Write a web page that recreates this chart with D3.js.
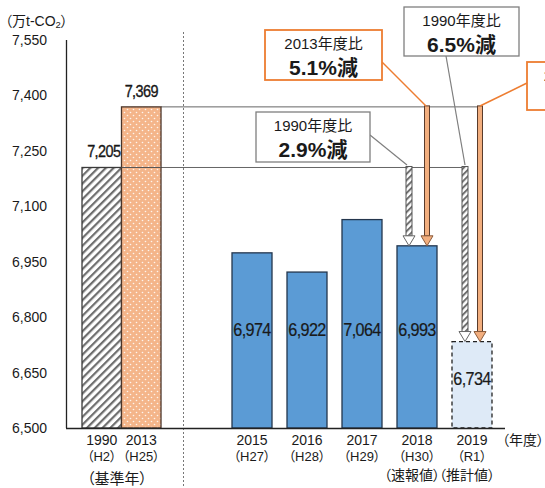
<!DOCTYPE html>
<html>
<head>
<meta charset="utf-8">
<script src="https://cdn.jsdelivr.net/npm/d3@7"></script>
<style>
  html, body { margin: 0; padding: 0; background: #fff; }
  svg { display: block; }
  text { font-family: "Liberation Sans", Arial, "Noto Sans CJK JP", sans-serif; fill: #1a1a1a;
         font-feature-settings: "palt" 1; }
</style>
</head>
<body>
<svg id="chart" width="545" height="488"></svg>
<script>
// ---- data ----
const categories = ["1990", "2013", "2015", "2016", "2017", "2018", "2019"];
const subLabels = ["（H2）", "（H25）", "（H27）", "（H28）", "（H29）", "（H30）", "（R1）"];
const values = [7205, 7369, 6974, 6922, 7064, 6993, 6734];
const valueLabels = ["7,205", "7,369", "6,974", "6,922", "7,064", "6,993", "6,734"];
const baseCats = ["1990", "2013"];
const recentCats = ["2015", "2016", "2017", "2018", "2019"];
const yTicks = [6500, 6650, 6800, 6950, 7100, 7250, 7400, 7550];
const yTickLabels = ["6,500", "6,650", "6,800", "6,950", "7,100", "7,250", "7,400", "7,550"];
const yUnit = "（万t-CO";
const xUnit = "（年度）";
const baseNote = "（基準年）";
const noteCats = ["2018", "2019"];
const noteLabels = ["（速報値）", "（推計値）"];
const calloutTitles = ["2013年度比", "1990年度比", "1990年度比", "2013年度比"];
const calloutValues = ["5.1%減", "6.5%減", "2.9%減", "8.6%減"];

// ---- setup ----
const svg = d3.select("#chart");
const y = d3.scaleLinear().domain([6500, 7550]).range([428, 40]);
const xBase = d3.scaleBand().domain(baseCats).range([82, 161]).padding(0);
const xRecent = d3.scaleBand().domain(recentCats).range([224.5, 499.5])
  .paddingInner(0.2727).paddingOuter(0.1364);
const xPos = c => baseCats.includes(c) ? xBase(c) : xRecent(c);
const bw = c => baseCats.includes(c) ? xBase.bandwidth() : xRecent.bandwidth();
const val = c => values[categories.indexOf(c)];

const defs = svg.append("defs");
const hatch = defs.append("pattern").attr("id", "hatch")
  .attr("patternUnits", "userSpaceOnUse").attr("width", 5.5).attr("height", 5.5)
  .attr("patternTransform", "rotate(45)");
hatch.append("rect").attr("width", 5.5).attr("height", 5.5).attr("fill", "#fff");
hatch.append("rect").attr("width", 2.2).attr("height", 5.5).attr("fill", "#6e6e6e");
const hatch2 = defs.append("pattern").attr("id", "hatch2")
  .attr("patternUnits", "userSpaceOnUse").attr("width", 4.5).attr("height", 4.5)
  .attr("patternTransform", "rotate(45)");
hatch2.append("rect").attr("width", 4.5).attr("height", 4.5).attr("fill", "#fff");
hatch2.append("rect").attr("width", 2).attr("height", 4.5).attr("fill", "#707070");
const dots = defs.append("pattern").attr("id", "dots")
  .attr("patternUnits", "userSpaceOnUse").attr("width", 6).attr("height", 6);
dots.append("rect").attr("width", 6).attr("height", 6).attr("fill", "#F4B58A");
dots.append("circle").attr("cx", 1.5).attr("cy", 1.5).attr("r", 0.8).attr("fill", "#fff").attr("opacity", 0.85);
dots.append("circle").attr("cx", 4.5).attr("cy", 4.5).attr("r", 0.8).attr("fill", "#fff").attr("opacity", 0.85);

// ---- y axis ----
const yAxis = d3.axisLeft(y).tickValues(yTicks).tickSize(0).tickPadding(0)
  .tickFormat((d, i) => yTickLabels[i]);
const ya = svg.append("g").attr("transform", "translate(47,0)").call(yAxis);
ya.select(".domain").remove();
ya.selectAll("text").attr("font-size", 14).attr("fill", "#222")
  .style("font-family", "'Liberation Sans', Arial, sans-serif");
svg.append("line").attr("x1", 66.5).attr("x2", 66.5).attr("y1", y(7550)).attr("y2", y(6500))
  .attr("stroke", "#222").attr("stroke-width", 1.3);

const unit = svg.append("text").attr("x", 5).attr("y", 26).attr("font-size", 14).attr("fill", "#222");
unit.append("tspan").text(yUnit);
unit.append("tspan").attr("font-size", 9.5).attr("dy", 2).text("2");
unit.append("tspan").attr("dy", -2).text("）");

svg.append("line").attr("x1", 183.5).attr("x2", 183.5).attr("y1", 32).attr("y2", 488)
  .attr("stroke", "#777").attr("stroke-width", 1).attr("stroke-dasharray", "2,2");

// ---- reference lines ----
svg.append("line").attr("x1", xBase("2013")).attr("x2", 467)
  .attr("y1", y(values[0])).attr("y2", y(values[0])).attr("stroke", "#666").attr("stroke-width", 1);
svg.append("line").attr("x1", xBase("2013") + xBase.bandwidth()).attr("x2", 482)
  .attr("y1", y(values[1])).attr("y2", y(values[1])).attr("stroke", "#666").attr("stroke-width", 1);

// ---- bars ----
const fills = { "1990": "url(#hatch)", "2013": "url(#dots)" };
const strokes = { "1990": "#3a3a3a", "2013": "#4a3428" };
svg.append("g").selectAll("rect").data(categories).join("rect")
  .attr("x", c => xPos(c)).attr("width", c => bw(c))
  .attr("y", c => y(val(c))).attr("height", c => y(6500) - y(val(c)))
  .attr("fill", c => fills[c] || (c === "2019" ? "#DEEAF7" : "#5B9BD5"))
  .attr("stroke", c => strokes[c] || (c === "2019" ? "#222" : "#24364d"))
  .attr("stroke-width", 1.3)
  .attr("stroke-dasharray", c => c === "2019" ? "4,3" : null);

svg.append("line").attr("x1", xBase("2013")).attr("x2", xBase("2013") + xBase.bandwidth())
  .attr("y1", y(values[0])).attr("y2", y(values[0])).attr("stroke", "#555").attr("stroke-width", 1);

svg.append("line").attr("x1", 66).attr("x2", 505).attr("y1", 428.5).attr("y2", 428.5)
  .attr("stroke", "#222").attr("stroke-width", 1.5);

// value labels (condensed)
categories.forEach((c, i) => {
  const cx = xPos(c) + bw(c) / 2;
  const isBase = baseCats.includes(c);
  let ty;
  if (isBase) ty = y(values[i]) - 10;
  else if (c === "2019") ty = (y(values[i]) + y(6500)) / 2;
  else ty = 336;
  svg.append("text")
    .attr("transform", `translate(${cx + (c === "1990" ? 2 : 0)},${ty}) scale(${isBase ? 0.85 : 0.9},1)`)
    .attr("text-anchor", "middle").attr("font-size", isBase ? 17 : 18)
    .attr("letter-spacing", -0.7).attr("fill", "#111")
    .attr("stroke", "#111").attr("stroke-width", isBase ? 0.35 : 0.2)
    .text(valueLabels[i]);
});

// x labels
categories.forEach((c, i) => {
  const cx = xPos(c) + bw(c) / 2;
  svg.append("text").attr("x", cx).attr("y", 445).attr("text-anchor", "middle")
    .attr("font-size", 14).attr("fill", "#222").text(c);
  svg.append("text").attr("x", cx).attr("y", 461).attr("text-anchor", "middle")
    .attr("font-size", 13).attr("fill", "#222").text(subLabels[i]);
});
svg.append("text").attr("x", 117).attr("y", 484).attr("text-anchor", "middle")
  .attr("font-size", 15).attr("fill", "#222").text(baseNote);
const noteOffsets = [-5, -5];
noteCats.forEach((c, i) => {
  svg.append("text").attr("x", xPos(c) + bw(c) / 2 + noteOffsets[i]).attr("y", 480).attr("text-anchor", "middle")
    .attr("font-size", 14).attr("fill", "#222").text(noteLabels[i]);
});
svg.append("text").attr("x", 502).attr("y", 445).attr("font-size", 14).attr("fill", "#222").text(xUnit);

// ---- arrows ----
function arrow(x, yTop, yTip, kind) {
  const g = svg.append("g");
  const sw = kind === "hatch" ? 6 : 5;
  const headH = 10, headW = 12;
  const fill = kind === "hatch" ? "url(#hatch2)" : "#F2AE7E";
  const stroke = kind === "hatch" ? "#555" : "#5a3b2b";
  g.append("rect").attr("x", x - sw / 2).attr("y", yTop).attr("width", sw).attr("height", yTip - headH - yTop)
    .attr("fill", fill).attr("stroke", stroke).attr("stroke-width", 1);
  g.append("path")
    .attr("d", `M${x - headW / 2},${yTip - headH} L${x + headW / 2},${yTip - headH} L${x},${yTip} Z`)
    .attr("fill", kind === "hatch" ? "#fff" : "#F2AE7E")
    .attr("stroke", kind === "hatch" ? "#666" : "#8a5a3a").attr("stroke-width", 1);
}
arrow(409, y(values[0]) - 1, y(val("2018")), "hatch");
arrow(427, y(values[1]) - 1, y(val("2018")), "orange");
arrow(465, y(values[0]) - 1, y(val("2019")), "hatch");
arrow(480, y(values[1]) - 1, y(val("2019")), "orange");

// ---- callouts ----
function callout(bx, by, w, h, title, value, color, lx1, ly1, lx2, ly2) {
  svg.append("line").attr("x1", lx1).attr("y1", ly1).attr("x2", lx2).attr("y2", ly2)
    .attr("stroke", color).attr("stroke-width", color === "#ED7D31" ? 1.5 : 1.2);
  svg.append("rect").attr("x", bx).attr("y", by).attr("width", w).attr("height", h)
    .attr("fill", "#fff").attr("stroke", color).attr("stroke-width", color === "#ED7D31" ? 1.8 : 1.3);
  svg.append("text").attr("x", bx + w / 2).attr("y", by + 19).attr("text-anchor", "middle")
    .attr("font-size", 15).attr("fill", "#222").text(title);
  svg.append("text").attr("x", bx + w / 2).attr("y", by + 44.5).attr("text-anchor", "middle")
    .attr("font-size", 21).attr("font-weight", "bold").attr("fill", "#111").text(value);
}
callout(265, 30, 117, 50, calloutTitles[0], calloutValues[0], "#ED7D31", 382, 62, 426, 106);
callout(404, 7, 115, 49, calloutTitles[1], calloutValues[1], "#7f7f7f", 446, 56, 465, 165);
callout(256, 112, 114, 50, calloutTitles[2], calloutValues[2], "#7f7f7f", 370, 135, 407, 165);
callout(527, 62, 112, 48, calloutTitles[3], calloutValues[3], "#ED7D31", 527, 83, 480, 106);
</script>
</body>
</html>
